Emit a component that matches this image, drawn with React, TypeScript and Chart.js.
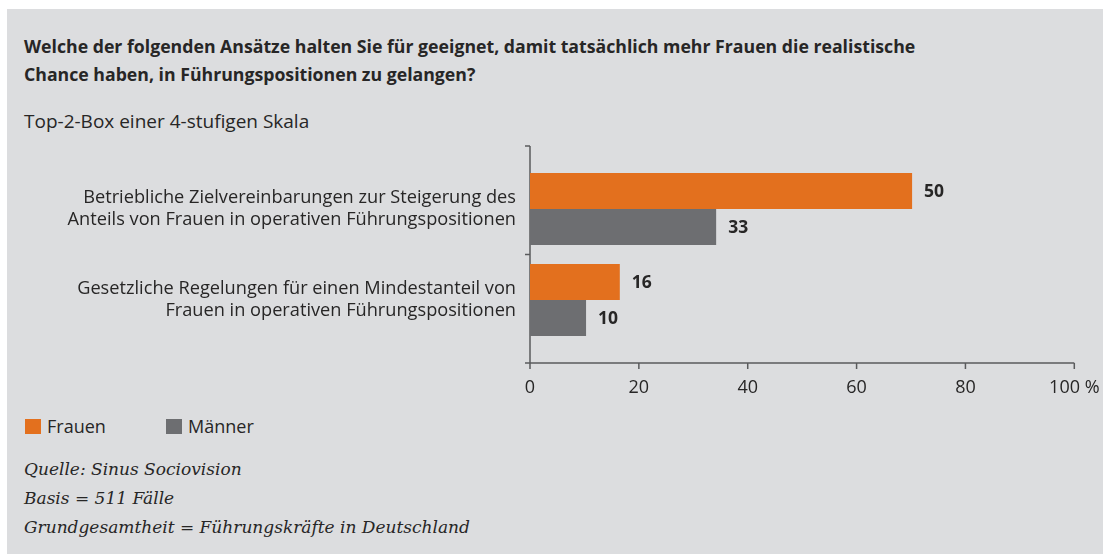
import React, { useEffect, useRef } from "react";
import { Chart, registerables } from "chart.js";

Chart.register(...registerables);

// ---------- data ----------
const categories: string[][] = [
  ["Betriebliche Zielvereinbarungen zur Steigerung des", "Anteils von Frauen in operativen Führungspositionen"],
  ["Gesetzliche Regelungen für einen Mindestanteil von", "Frauen in operativen Führungspositionen"],
];
const seriesNames = ["Frauen", "Männer"];
// bar lengths as drawn in the picture
const frauenValues = [70.2, 16.5];
const maennerValues = [34.2, 10.3];
// values printed next to the bars
const frauenLabels = ["50", "16"];
const maennerLabels = ["33", "10"];
const xTickValues = [0, 20, 40, 60, 80, 100];
const xTickLabels = ["0", "20", "40", "60", "80", "100 %"];

const titleLines = [
  "Welche der folgenden Ansätze halten Sie für geeignet, damit tatsächlich mehr Frauen die realistische",
  "Chance haben, in Führungspositionen zu gelangen?",
];
const subtitle = "Top-2-Box einer 4-stufigen Skala";
const sourceLines = ["Quelle: Sinus Sociovision", "Basis = 511 Fälle", "Grundgesamtheit = Führungskräfte in Deutschland"];

// ---------- styles ----------
const ORANGE = "#e3701e";
const GREY = "#6d6e71";
const PANEL = "#dcdddf";
const TEXT = "#272626";
const AXIS = "#5a5b5d";
const SANS = "'Open Sans', 'Noto Sans', sans-serif";
const SERIF = "'DejaVu Serif', serif";
const OVERHANG = 17.5;

const axisPlugin = {
  id: "customAxes",
  beforeDatasetsDraw(chart: any) {
    const { ctx, chartArea } = chart;
    const xs = chart.scales.x;
    const ys = chart.scales.y;
    const x0 = xs.getPixelForValue(0);
    const x1 = xs.getPixelForValue(100);
    const top = chartArea.top - OVERHANG;
    const bottom = chartArea.bottom + OVERHANG;
    ctx.save();
    ctx.strokeStyle = AXIS;
    ctx.lineWidth = 1.5;
    ctx.beginPath();
    ctx.moveTo(x0, top);
    ctx.lineTo(x0, bottom);
    ctx.moveTo(x0, bottom);
    ctx.lineTo(x1, bottom);
    const mid = (ys.getPixelForValue(0) + ys.getPixelForValue(1)) / 2;
    [top, mid, bottom].forEach((y) => {
      ctx.moveTo(x0 - 5, y);
      ctx.lineTo(x0, y);
    });
    xTickValues.forEach((v) => {
      const x = xs.getPixelForValue(v);
      ctx.moveTo(x, bottom);
      ctx.lineTo(x, bottom + 6);
    });
    ctx.stroke();
    ctx.restore();
  },
};

const valueLabelPlugin = {
  id: "valueLabels",
  afterDatasetsDraw(chart: any) {
    const { ctx } = chart;
    const texts = [frauenLabels, maennerLabels];
    ctx.save();
    ctx.font = `bold 17.5px ${SANS}`;
    ctx.fillStyle = TEXT;
    ctx.textAlign = "left";
    ctx.textBaseline = "middle";
    chart.data.datasets.forEach((_: any, di: number) => {
      const meta = chart.getDatasetMeta(di);
      meta.data.forEach((bar: any, i: number) => {
        ctx.fillText(texts[di][i], bar.x + 12, bar.y + 1);
      });
    });
    ctx.restore();
  },
};

function BarChart() {
  const ref = useRef<HTMLCanvasElement | null>(null);
  useEffect(() => {
    if (!ref.current) return;
    const chart = new Chart(ref.current, {
      type: "bar",
      data: {
        labels: categories,
        datasets: [
          {
            label: seriesNames[0],
            data: frauenValues,
            backgroundColor: ORANGE,
            borderWidth: 0,
            categoryPercentage: 0.79,
            barPercentage: 1,
          },
          {
            label: seriesNames[1],
            data: maennerValues,
            backgroundColor: GREY,
            borderWidth: 0,
            categoryPercentage: 0.79,
            barPercentage: 1,
          },
        ],
      },
      options: {
        indexAxis: "y",
        animation: false,
        responsive: false,
        maintainAspectRatio: false,
        layout: { padding: { top: 33.5, right: 28.7, left: 0, bottom: 0 } },
        plugins: { legend: { display: false }, tooltip: { enabled: false } },
        scales: {
          x: {
            type: "linear",
            min: 0,
            max: 100,
            afterBuildTicks: (s: any) => {
              s.ticks = xTickValues.map((v) => ({ value: v }));
            },
            afterFit: (s: any) => {
              s.height = 64.5;
              s.paddingLeft = 0;
              s.paddingRight = 0;
            },
            grid: { display: false, drawTicks: false },
            border: { display: false },
            ticks: {
              color: TEXT,
              font: { family: SANS, size: 18 },
              padding: 31.8,
              maxRotation: 0,
              autoSkip: false,
              callback: (v: any) => xTickLabels[xTickValues.indexOf(Number(v))],
            },
          },
          y: {
            type: "category",
            afterFit: (s: any) => {
              s.width = 530;
              s.paddingTop = 0;
              s.paddingBottom = 0;
            },
            grid: { display: false, drawTicks: false },
            border: { display: false },
            ticks: {
              color: TEXT,
              font: { family: SANS, size: 18.2, lineHeight: 1.2 },
              padding: 14,
            },
          },
        },
      },
      plugins: [axisPlugin, valueLabelPlugin],
    } as any);
    return () => chart.destroy();
  }, []);
  return (
    <canvas
      ref={ref}
      width={1103}
      height={280}
      style={{ position: "absolute", left: 0, top: 130, width: 1103, height: 280 }}
    />
  );
}

export default function App() {
  return (
    <div
      style={{
        position: "absolute",
        left: 0,
        top: 0,
        width: 1103,
        height: 554,
        background: "#ffffff",
        overflow: "hidden",
      }}
    >
      <div style={{ position: "absolute", left: 7, top: 9, right: 0, bottom: 0, background: PANEL }} />
      <div
        style={{
          position: "absolute",
          left: 24,
          top: 31.5,
          fontFamily: SANS,
          fontWeight: 700,
          fontSize: 17.7,
          lineHeight: "28.4px",
          color: TEXT,
          whiteSpace: "nowrap",
        }}
      >
        {titleLines.map((t, i) => (
          <div key={i}>{t}</div>
        ))}
      </div>
      <div
        style={{
          position: "absolute",
          left: 24,
          top: 106.5,
          fontFamily: SANS,
          fontSize: 19,
          lineHeight: "28.4px",
          color: TEXT,
          whiteSpace: "nowrap",
        }}
      >
        {subtitle}
      </div>
      <BarChart />
      <div
        style={{
          position: "absolute",
          left: 25,
          top: 412,
          height: 28,
          display: "flex",
          alignItems: "center",
          fontFamily: SANS,
          fontSize: 18,
          color: TEXT,
        }}
      >
        {seriesNames.map((n, i) => (
          <div key={n} style={{ display: "flex", alignItems: "center", width: i === 0 ? 141 : undefined }}>
            <span
              style={{
                display: "inline-block",
                width: 16,
                height: 15,
                background: i === 0 ? ORANGE : GREY,
                marginRight: 6,
              }}
            />
            <span>{n}</span>
          </div>
        ))}
      </div>
      <div
        style={{
          position: "absolute",
          left: 24,
          top: 454.5,
          fontFamily: SERIF,
          fontStyle: "italic",
          fontSize: 17,
          lineHeight: "29.2px",
          color: TEXT,
          whiteSpace: "nowrap",
        }}
      >
        {sourceLines.map((t, i) => (
          <div key={i}>{t}</div>
        ))}
      </div>
    </div>
  );
}
